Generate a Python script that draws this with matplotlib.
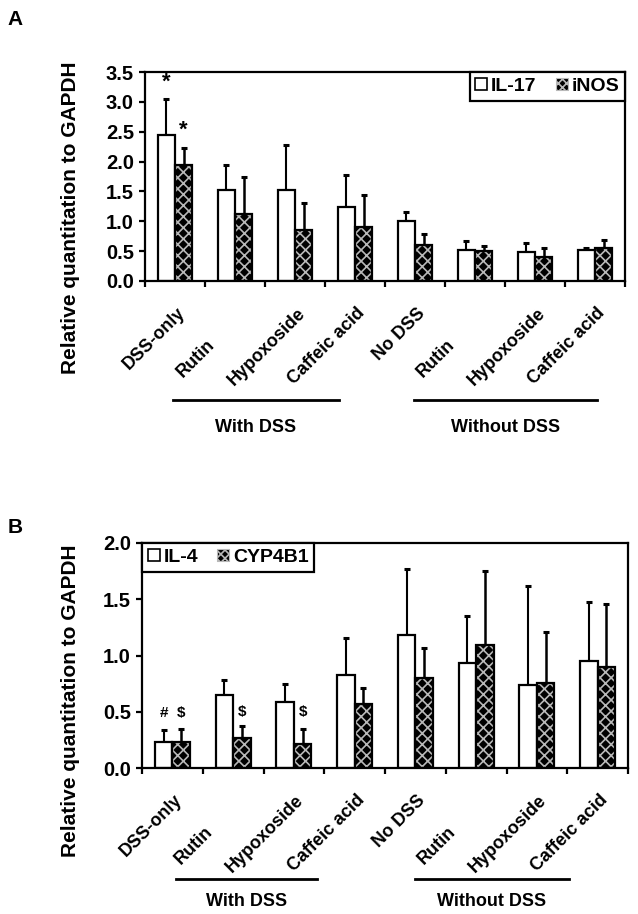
import matplotlib.pyplot as plt
from matplotlib.patches import Patch
import numpy as np

plt.rcParams['font.family'] = ['Liberation Sans', 'DejaVu Sans']
plt.rcParams['font.weight'] = 'bold'
plt.rcParams['hatch.linewidth'] = 1.2

# Data
groups = ['DSS-only', 'Rutin', 'Hypoxoside', 'Caffeic acid',
          'No DSS', 'Rutin', 'Hypoxoside', 'Caffeic acid']

il17 = [2.45, 1.53, 1.53, 1.24, 1.00, 0.52, 0.49, 0.52]
il17_err = [0.60, 0.42, 0.75, 0.54, 0.16, 0.15, 0.15, 0.04]
inos = [1.95, 1.12, 0.86, 0.90, 0.60, 0.50, 0.41, 0.56]
inos_err = [0.28, 0.63, 0.44, 0.54, 0.18, 0.09, 0.14, 0.13]

il4 = [0.23, 0.65, 0.59, 0.83, 1.18, 0.93, 0.74, 0.95]
il4_err = [0.11, 0.13, 0.16, 0.33, 0.59, 0.42, 0.88, 0.53]
cyp = [0.23, 0.27, 0.21, 0.57, 0.80, 1.09, 0.76, 0.90]
cyp_err = [0.12, 0.10, 0.14, 0.14, 0.27, 0.66, 0.45, 0.56]

# significance marks: (group, series, symbol, y)
marks_a = [(0, 0, '*', 3.33), (0, 1, '*', 2.53)]
marks_b = [(0, 0, '#', 0.49), (0, 1, '$', 0.49), (1, 1, '$', 0.50), (2, 1, '$', 0.50)]

W, H = 638, 914
fig = plt.figure(figsize=(W / 100, H / 100), dpi=100)

HATCH_GREY = '#b8b8b8'
bw = 0.29


def px(x, y):
    return x / W, 1 - y / H


def panel(rect, s1, e1, s2, e2, ymax, names, legend_loc, marks,
          lines, line_y, text_y, mark_size, ylab_y):
    ax = fig.add_axes(rect)
    x = np.arange(len(groups))
    ax.bar(x - bw / 2, s1, bw, color='white', edgecolor='black', linewidth=1.6, zorder=2)
    ax.bar(x + bw / 2, s2, bw, color='black', edgecolor=HATCH_GREY, linewidth=0,
           hatch='xxx', zorder=2)
    ax.bar(x + bw / 2, s2, bw, fill=False, edgecolor='black', linewidth=1.6, zorder=3)
    ax.errorbar(x - bw / 2, s1, yerr=[np.zeros(len(e1)), e1], fmt='none',
                ecolor='black', elinewidth=1.5, capsize=2.5, capthick=2.2, zorder=1)
    ax.errorbar(x + bw / 2, s2, yerr=[np.zeros(len(e2)), e2], fmt='none',
                ecolor='black', elinewidth=1.8, capsize=2.5, capthick=2.2, zorder=1)

    for g, s, sym, yv in marks:
        xx = g - bw / 2 if s == 0 else g + bw / 2
        ax.text(xx, yv, sym, ha='center', va='center', fontsize=mark_size,
                fontweight='bold')

    ax.set_xlim(-0.5, len(groups) - 0.5)
    ax.set_ylim(0, ymax)
    ax.set_yticks(np.arange(0, ymax + 0.01, 0.5))
    ax.set_yticklabels(['%.1f' % v for v in np.arange(0, ymax + 0.01, 0.5)],
                       fontsize=14.5, fontweight='bold')
    ax.set_xticks(np.arange(-0.5, len(groups), 1.0))
    ax.set_xticklabels([])
    ax.tick_params(axis='both', direction='out', length=4, width=1.6, pad=4)
    for sp in ax.spines.values():
        sp.set_linewidth(1.6)

    # category labels
    for i, lab in enumerate(groups):
        dx, dy = 1, -17
        if lab == 'Rutin':
            dx, dy = -21, -40
        ax.annotate(lab, xy=(i, 0), xycoords=('data', 'axes fraction'),
                    xytext=(dx, dy), textcoords='offset points',
                    rotation=45, rotation_mode='anchor', ha='right', va='top',
                    fontsize=13, fontweight='bold')

    fig.text(*px(71, ylab_y), 'Relative quantitation to GAPDH', rotation=90,
             ha='center', va='center', fontsize=15, fontweight='bold')

    h = [Patch(facecolor='white', edgecolor='black', linewidth=1.2),
         Patch(facecolor='black', edgecolor=HATCH_GREY, hatch='xxxx', linewidth=0.8)]
    leg = ax.legend(h, names, loc=legend_loc, ncol=2, fontsize=14,
                    handlelength=0.6, handleheight=0.6, handletextpad=0.2,
                    columnspacing=1.0, borderaxespad=0, fancybox=False,
                    framealpha=1, borderpad=0.3)
    leg.get_frame().set_edgecolor('black')
    leg.get_frame().set_linewidth(1.6)
    for t in leg.get_texts():
        t.set_fontweight('bold')

    # group brackets
    for (x0, x1), lab in zip(lines, ['With DSS', 'Without DSS']):
        fig.add_artist(plt.Line2D([px(x0, 0)[0], px(x1, 0)[0]],
                                  [px(0, line_y)[1]] * 2, color='black', linewidth=2))
        fig.text(*px((x0 + x1) / 2, text_y), lab, ha='center', va='center',
                 fontsize=13, fontweight='bold')
    return ax


ax_a = panel([145 / W, 1 - 281 / H, 480 / W, 209 / H], il17, il17_err, inos, inos_err,
             3.5, ['IL-17', 'iNOS'], 'upper right', marks_a,
             [(173, 339), (414, 597)], 400, 427, 16, 218)
ax_b = panel([142 / W, 1 - 768 / H, 486 / W, 225 / H], il4, il4_err, cyp, cyp_err,
             2.0, ['IL-4', 'CYP4B1'], 'upper left', marks_b,
             [(176, 317), (415, 569)], 879, 901, 11, 701)

fig.text(*px(7, 10), 'A', fontsize=15, fontweight='bold', va='top', ha='left')
fig.text(*px(8, 518), 'B', fontsize=15, fontweight='bold', va='top', ha='left')

fig.savefig('out.png', dpi=100)
